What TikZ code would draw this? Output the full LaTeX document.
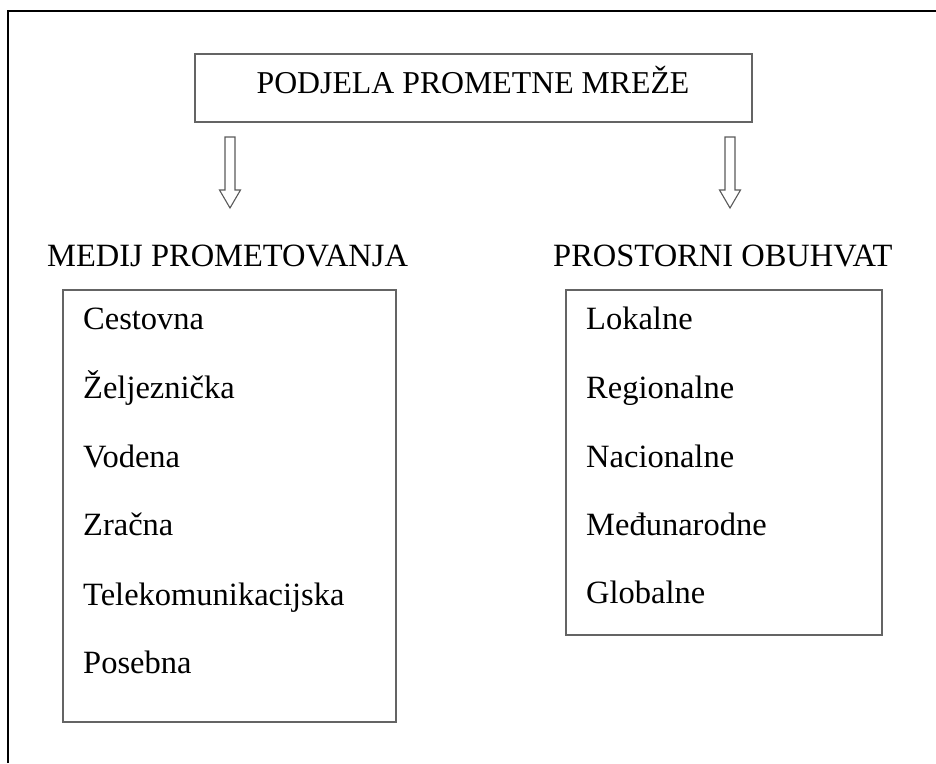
\documentclass[tikz,border=0pt]{standalone}
\usepackage{fontspec}
\setmainfont{Liberation Serif}
\definecolor{boxgray}{RGB}{100,100,100}
\definecolor{arrgray}{RGB}{90,90,90}
\begin{document}
\begin{tikzpicture}[x=1pt,y=-1pt,
  txt/.style={font=\fontsize{32.5}{39}\selectfont, inner sep=0pt, text=black},
  item/.style={txt, anchor=base west},
  boxnode/.style={draw=boxgray, line width=1.8pt, inner sep=0pt, outer sep=0pt},
  hollowarrow/.style={draw=arrgray, line width=1.1pt, fill=white, line join=miter}]
\useasboundingbox (0,0) rectangle (936,763);
% outer frame (top and left edges visible)
\draw[black, line width=2.2pt] (8,763) -- (8,11) -- (936,11);
% title box
\node[boxnode, minimum width=557pt, minimum height=68pt] (top) at (473.5,88) {};
\node[txt, anchor=base, font=\fontsize{31.8}{38}\selectfont] (title) at (473,93) {PODJELA PROMETNE MREŽE};
% arrows
\coordinate (a1) at (230,137);
\coordinate (a2) at (730,137);
\draw[hollowarrow] (a1) ++(-5,0) -- ++(0,53) -- ++(-5.5,0) -- ++(10.5,18) -- ++(10.5,-18) -- ++(-5.5,0) -- ++(0,-53) -- cycle;
\draw[hollowarrow] (a2) ++(-5,0) -- ++(0,53) -- ++(-5.5,0) -- ++(10.5,18) -- ++(10.5,-18) -- ++(-5.5,0) -- ++(0,-53) -- cycle;
% headings
\node[item] (h1) at (47,266) {MEDIJ PROMETOVANJA};
\node[item] (h2) at (553,266) {PROSTORNI OBUHVAT};
% list boxes
\node[boxnode, minimum width=333pt, minimum height=432pt] (lbox) at (229.5,506) {};
\node[boxnode, minimum width=316pt, minimum height=345pt] (rbox) at (724,462.5) {};
% left items
\node[item] (l1) at (83,329) {Cestovna};
\node[item] (l2) at (83,398) {Željeznička};
\node[item] (l3) at (83,467) {Vodena};
\node[item] (l4) at (83,535) {Zračna};
\node[item] (l5) at (83,605) {Telekomunikacijska};
\node[item] (l6) at (83,673) {Posebna};
% right items
\node[item] (r1) at (586,329) {Lokalne};
\node[item] (r2) at (586,398) {Regionalne};
\node[item] (r3) at (586,467) {Nacionalne};
\node[item] (r4) at (586,535) {Međunarodne};
\node[item] (r5) at (586,603) {Globalne};
\end{tikzpicture}
\end{document}
